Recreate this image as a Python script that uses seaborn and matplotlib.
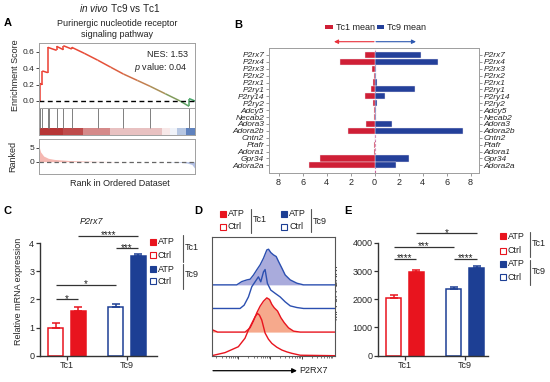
import numpy as np
import pandas as pd
import seaborn as sns
import matplotlib.pyplot as plt
from matplotlib.patches import Rectangle
from matplotlib.collections import LineCollection
from matplotlib.colors import LinearSegmentedColormap

# ---------------- data ----------------
# A: GSEA running enrichment score (rank as % of ordered dataset)
es_rank = [0, 0.6, 0.6, 2.1, 2.1, 5.6, 5.6, 11.3, 11.3, 15.6, 15.6, 21.0, 21.0,
           29.0, 37.6, 46.0, 54.1, 63.0, 71.2, 81.0, 90.4, 96.2, 96.2, 100]
es_score = [0, 0, 0.215, 0.20, 0.368, 0.347, 0.657, 0.62, 0.669, 0.628, 0.677, 0.636, 0.657,
            0.584, 0.50, 0.413, 0.33, 0.252, 0.18, 0.088, 0.0, -0.066, 0.03, 0.0]
hit_rank = [0.6, 2.1, 5.6, 6.4, 11.3, 15.6, 21.0, 37.6, 54.1, 71.2, 96.2]
metric_rank = [0, 1, 3, 6, 10, 20, 35, 50, 60, 80, 90, 95, 98, 100]
metric_value = [5.5, 3.5, 2.0, 1.2, 0.8, 0.4, 0.15, 0.05, 0, 0, -0.2, -0.5, -1.0, -2.5]
heat_edges = [0, 15.6, 28.4, 45.5, 78.6, 84, 88.3, 94, 100]
heat_value = [2.6, 2.3, 1.5, 0.8, 0.3, -0.2, -1.0, -2.2]

# B: purinergic genes, mean expression
genes = ['P2rx7', 'P2rx4', 'P2rx3', 'P2rx2', 'P2rx1', 'P2ry1', 'P2ry14', 'P2ry2', 'Adcy5',
         'Necab2', 'Adora3', 'Adora2b', 'Cntn2', 'Ptafr', 'Adora1', 'Gpr34', 'Adora2a']
tc1_mean = [0.77, 2.88, 0.2, 0.08, 0.16, 0.3, 0.77, 0.14, 0.05, 0.03, 0.74, 2.19, 0.0, 0.02, 0.02, 4.52, 5.48]
tc9_mean = [3.83, 5.25, 0.14, 0.15, 0.2, 3.4, 0.85, 0.22, 0.15, 0.1, 1.48, 7.35, 0.0, 0.01, 0.01, 2.9, 1.78]

# C: P2rx7 relative mRNA expression
cells = ['Tc1', 'Tc9']
treatments = ['Ctrl', 'ATP']
mrna_ctrl = [0.98, 1.72]
mrna_ctrl_sem = [0.2, 0.11]
mrna_atp = [1.60, 3.55]
mrna_atp_sem = [0.12, 0.08]
mrna_sig = [('Tc1 Ctrl', 'Tc1 ATP', 2.01, '*'), ('Tc1 Ctrl', 'Tc9 Ctrl', 2.52, '*'),
            ('Tc9 Ctrl', 'Tc9 ATP', 3.82, '***'), ('Tc1 ATP', 'Tc9 ATP', 4.26, '****')]

# D: P2RX7 flow histograms (x: % of log axis, y: normalised count)
hist_x_ctrl_tc1 = [0, 10.8, 21.6, 27.0, 29.8, 32.5, 35.2, 37.1, 38.7, 40.6, 43.3, 46.0, 48.8, 52.8, 56.9, 61.0, 65.0, 71.8, 100]
hist_y_ctrl_tc1 = [0.0, 0.13, 0.38, 0.74, 1.09, 1.37, 1.65, 1.79, 1.72, 1.51, 0.96, 0.70, 0.52, 0.36, 0.24, 0.16, 0.10, 0.02, 0]
hist_x_atp_tc1 = [0, 4.8, 27.1, 31.2, 33.9, 36.6, 39.3, 42.0, 44.7, 46.9, 48.8, 50.7, 53.4, 56.1, 58.8, 62.3, 66.4, 71.8, 100]
hist_y_atp_tc1 = [0.11, 0, 0, 0.18, 0.47, 0.82, 1.10, 1.31, 1.45, 1.38, 1.17, 1.03, 0.89, 0.61, 0.40, 0.18, 0.04, 0, 0]
hist_x_ctrl_tc9 = [0, 23.0, 26.3, 29.8, 32.5, 35.2, 37.9, 39.8, 42.0, 43.3, 45.2, 47.9, 51.5, 55.5, 59.6, 63.7, 69.1, 74.5, 100]
hist_y_ctrl_tc9 = [0, 0, 0.14, 0.49, 0.92, 1.13, 1.34, 1.13, 1.55, 1.65, 1.06, 0.78, 0.64, 0.49, 0.28, 0.11, 0.04, 0, 0]
hist_x_atp_tc9 = [0, 20.3, 24.4, 28.5, 31.2, 33.9, 36.6, 39.3, 42.0, 44.7, 46.1, 47.9, 50.1, 52.3, 54.2, 56.9, 59.6, 63.7, 69.1, 74.5, 100]
hist_y_atp_tc9 = [0, 0, 0.14, 0.21, 0.24, 0.42, 0.64, 0.85, 1.13, 1.48, 1.51, 1.37, 1.27, 1.20, 0.99, 0.71, 0.42, 0.21, 0.07, 0, 0]

# E: MFI of P2RX7
mfi_ctrl = [2060, 2380]
mfi_ctrl_sem = [80, 45]
mfi_atp = [2980, 3110]
mfi_atp_sem = [45, 75]
mfi_sig = [('Tc1 Ctrl', 'Tc1 ATP', 3430, '****'), ('Tc9 Ctrl', 'Tc9 ATP', 3430, '****'),
           ('Tc1 Ctrl', 'Tc9 Ctrl', 3870, '***'), ('Tc1 ATP', 'Tc9 ATP', 4340, '*')]

# ---------------- style ----------------
W, H = 550, 382
RED, BLUE = '#e8141e', '#1d3f94'
B_RED, B_BLUE = '#cf1f36', '#24409a'

sns.set_style('ticks')
plt.rcParams['font.family'] = ['Liberation Sans', 'DejaVu Sans']
plt.rcParams['mathtext.fontset'] = 'custom'
plt.rcParams['mathtext.rm'] = 'Liberation Sans'
plt.rcParams['mathtext.it'] = 'Liberation Sans:italic'
plt.rcParams['xtick.labelsize'] = 6
plt.rcParams['ytick.labelsize'] = 6
plt.rcParams['text.color'] = '#222222'

fig = plt.figure(figsize=(5.5, 3.82), dpi=100)


def px_axes(x0, y0, x1, y1):
    return fig.add_axes([x0 / W, 1 - y1 / H, (x1 - x0) / W, (y1 - y0) / H])


def gray_box(ax):
    for s in ax.spines.values():
        s.set_visible(True)
        s.set_color('#a0a0a0')
        s.set_linewidth(0.7)


# ---------------- A ----------------
axA = px_axes(39, 43, 195, 108)
pts = np.column_stack([es_rank, es_score])
segs = np.stack([pts[:-1], pts[1:]], axis=1)
mids = (np.array(es_rank[:-1]) + np.array(es_rank[1:])) / 2
es_cmap = LinearSegmentedColormap.from_list(
    'es', [(0, '#ec3b30'), (0.45, '#e4533a'), (0.72, '#bb8a55'), (0.88, '#7a9f5e'), (1, '#3fa86b')])
lc = LineCollection(segs, cmap=es_cmap, norm=plt.Normalize(0, 100), linewidths=1.1)
lc.set_array(mids)
axA.add_collection(lc)
axA.axhline(0, color='black', lw=1.0, ls=(0, (3.5, 2.5)))
axA.set_xlim(0, 100)
axA.set_ylim(-0.086, 0.71)
axA.set_xticks([])
axA.set_yticks([0, 0.2, 0.4, 0.6])
axA.set_yticklabels(['0.0', '0.2', '0.4', '0.6'])
axA.tick_params(axis='y', length=2, pad=1.2, width=0.6)
axA.set_ylabel('Enrichment Score', fontsize=6.5)
axA.yaxis.set_label_coords(-0.125, 0.5)
gray_box(axA)
axA.text(0.955, 0.83, 'NES: 1.53', transform=axA.transAxes, ha='right', va='center', fontsize=6.5)
axA.text(0.955, 0.63, r'$p$ value: 0.04', transform=axA.transAxes, ha='right', va='center', fontsize=6.5)

axH = px_axes(39, 108, 195, 135)
heat_cmap = LinearSegmentedColormap.from_list('heat', ['#3461ad', '#ffffff', '#b02626'])
axH.pcolormesh(heat_edges, [0, 0.27], [heat_value], cmap=heat_cmap, vmin=-2.8, vmax=2.8)
axH.vlines(hit_rank, 0.27, 1, color='#7f7f7f', lw=0.7)
axH.set_xlim(0, 100)
axH.set_ylim(0, 1)
axH.set_xticks([])
axH.set_yticks([])
gray_box(axH)

axR = px_axes(39, 139, 195, 174)
mv = np.array(metric_value)
axR.fill_between(metric_rank, np.clip(mv, 0, None), 0, color='#f5b8b2', lw=0)
axR.fill_between(metric_rank, np.clip(mv, None, 0), 0, color='#b3c1e6', lw=0)
axR.axhline(0, color='#666666', lw=0.9, ls=(0, (3.5, 2.5)))
axR.set_xlim(0, 100)
axR.set_ylim(-4.4, 8.1)
axR.set_xticks([])
axR.set_yticks([0, 5])
axR.tick_params(axis='y', length=2, pad=1.2, width=0.6)
axR.set_ylabel('Ranked', fontsize=6.5)
axR.yaxis.set_label_coords(-0.14, 0.5)
gray_box(axR)

# ---------------- B ----------------
axB = px_axes(269, 48, 479, 173)
dfB = pd.DataFrame({'gene': genes, 'Tc1 mean': tc1_mean, 'Tc9 mean': tc9_mean})
dfB['Tc1 left'] = -dfB['Tc1 mean']
axB.axvline(0, color='#c8649c', lw=0.8, ls=(0, (2.5, 1.5)), zorder=0.5)
sns.barplot(data=dfB, x='Tc9 mean', y='gene', order=genes, orient='h', color=B_BLUE,
            saturation=1, width=0.88, edgecolor='#f0e8f0', linewidth=0.3, ax=axB)
sns.barplot(data=dfB, x='Tc1 left', y='gene', order=genes, orient='h', color=B_RED,
            saturation=1, width=0.88, edgecolor='#f0e8f0', linewidth=0.3, ax=axB)
axB.set_ylim(17.1, -1.0)
axB.set_xlim(-8.8, 8.7)
axB.set_xticks([-8, -6, -4, -2, 0, 2, 4, 6, 8])
axB.set_xticklabels(['8', '6', '4', '2', '0', '2', '4', '6', '8'], fontsize=6.5)
axB.set_xlabel('')
axB.set_ylabel('')
axB.set_yticks(range(len(genes)))
axB.set_yticklabels(genes, fontsize=6.0, fontstyle='italic')
axB.tick_params(length=2, pad=1.5, width=0.6, color='#888888')
gray_box(axB)
axB2 = axB.twinx()
axB2.set_ylim(axB.get_ylim())
axB2.set_yticks(range(len(genes)))
axB2.set_yticklabels(genes, fontsize=6.0, fontstyle='italic')
axB2.tick_params(length=2, pad=1.5, width=0.6, color='#888888')
gray_box(axB2)


# ---------------- C & E bars ----------------
def treatment_bars(ax, df, sigs, ylim, ytop, yticks):
    sns.barplot(data=df, x='cell', y='value', hue='treatment', order=cells, hue_order=treatments,
                width=0.76, gap=0.34, errorbar=None, saturation=1, legend=False, ax=ax)
    pos = {}
    for p in list(ax.patches):
        xc = p.get_x() + p.get_width() / 2
        i = int(round(xc))
        col = RED if i == 0 else BLUE
        trt = 'ATP' if xc > i else 'Ctrl'
        p.set_facecolor(col if trt == 'ATP' else 'white')
        p.set_edgecolor(col)
        p.set_linewidth(1.1)
        row = df[(df['cell'] == cells[i]) & (df['treatment'] == trt)].iloc[0]
        ax.errorbar(xc, row['value'], yerr=[[0], [row['sem']]], fmt='none', ecolor=col,
                    elinewidth=1.1, capsize=2.6, capthick=1.1, zorder=1)
        pos[cells[i] + ' ' + trt] = xc
    for a, b, y, lab in sigs:
        ax.plot([pos[a], pos[b]], [y, y], color='#333333', lw=0.9, solid_capstyle='butt')
        ax.annotate(lab, ((pos[a] + pos[b]) / 2, y), xytext=(0, -1.8), textcoords='offset points',
                    ha='center', va='baseline', fontsize=7)
    ax.set_ylim(0, ylim)
    ax.set_yticks(yticks)
    ax.spines['left'].set_bounds(0, ytop)
    sns.despine(ax=ax)
    for s in ('left', 'bottom'):
        ax.spines[s].set_color('#333333')
        ax.spines[s].set_linewidth(1.0)
    ax.tick_params(length=2.6, width=0.9, pad=1.5, color='#333333', labelsize=6.5)
    ax.set_xlabel('')


axC = px_axes(40, 228, 157, 355.7)
dfC = pd.DataFrame({'cell': cells * 2, 'treatment': ['Ctrl', 'Ctrl', 'ATP', 'ATP'],
                    'value': mrna_ctrl + mrna_atp, 'sem': mrna_ctrl_sem + mrna_atp_sem})
treatment_bars(axC, dfC, mrna_sig, 4.54, 4, [0, 1, 2, 3, 4])
axC.set_xlim(-0.45, 1.5)
axC.set_ylabel('Relative mRNA expression', fontsize=6.5)
axC.yaxis.set_label_coords(-0.148, 0.5)

axE = px_axes(378.3, 228, 488, 355.7)
dfE = pd.DataFrame({'cell': cells * 2, 'treatment': ['Ctrl', 'Ctrl', 'ATP', 'ATP'],
                    'value': mfi_ctrl + mfi_atp, 'sem': mfi_ctrl_sem + mfi_atp_sem})
treatment_bars(axE, dfE, mfi_sig, 4528, 4000, [0, 1000, 2000, 3000, 4000])
axE.set_xlim(-0.445, 1.38)
axE.set_ylabel('MFI of P2RX7', fontsize=6.5)
axE.yaxis.set_label_coords(-0.35, 0.5)

# ---------------- D ----------------
axD = px_axes(211.7, 236.7, 335, 355.7)
hists = [(hist_x_ctrl_tc1, hist_y_ctrl_tc1, 0, RED, None),
         (hist_x_atp_tc1, hist_y_atp_tc1, 1, RED, '#f6a98c'),
         (hist_x_ctrl_tc9, hist_y_ctrl_tc9, 2, '#2b4fb0', None),
         (hist_x_atp_tc9, hist_y_atp_tc9, 3, '#2b4fb0', '#a9abdc')]
for hx, hy, off, line, fill in hists:
    if fill:
        axD.fill_between(hx, off, np.array(hy) + off, color=fill, lw=0)
for hx, hy, off, line, fill in hists:
    axD.plot(hx, np.array(hy) + off, color=line, lw=1.0)
axD.set_xlim(0, 100)
axD.set_ylim(0, 5.04)
axD.set_yticks([])
decades = [-4.2, 21.6, 47.4, 73.2]
axD.set_xticks([d for d in decades if 0 <= d <= 100])
axD.set_xticks([d + 25.8 * np.log10(k) for d in decades for k in range(2, 10)
                if 0 <= d + 25.8 * np.log10(k) <= 100], minor=True)
axD.set_xticklabels([])
axD.tick_params(which='major', length=2.5, width=0.7, color='#444444')
axD.tick_params(which='minor', length=1.5, width=0.5, color='#444444')
for s in axD.spines.values():
    s.set_color('#555555')
    s.set_linewidth(0.8)

# ---------------- overlay: titles, letters, legends ----------------
ov = fig.add_axes([0, 0, 1, 1])
ov.set_xlim(0, W)
ov.set_ylim(H, 0)
ov.axis('off')
ov.patch.set_visible(False)
ov.set_zorder(10)

for letter, x, y in [('A', 7.5, 23.5), ('B', 238.3, 24.5), ('C', 7, 211), ('D', 198, 211), ('E', 348, 211.5)]:
    ov.text(x, y, letter, ha='center', va='center', fontsize=8, fontweight='bold', color='black')

ov.text(119.5, 7.5, r'$in\ vivo$ Tc9 vs Tc1', ha='center', va='center', fontsize=7.2)
ov.text(117, 29, 'Purinergic nucleotide receptor\nsignaling pathway', ha='center', va='center',
        fontsize=6.5, linespacing=1.15)
ov.text(120, 183, 'Rank in Ordered Dataset', ha='center', va='center', fontsize=6.5)

# B legend and arrows
ov.add_patch(Rectangle((325, 25.3), 8, 4, fc=B_RED, ec='none'))
ov.text(335.7, 27.3, 'Tc1 mean', va='center', fontsize=6.5)
ov.add_patch(Rectangle((377.3, 25.3), 7, 4, fc=B_BLUE, ec='none'))
ov.text(386.7, 27.3, 'Tc9 mean', va='center', fontsize=6.5)
ov.annotate('', xy=(334, 41.7), xytext=(374, 41.7),
            arrowprops=dict(arrowstyle='-|>', color='#e8303a', lw=0.8, mutation_scale=6, shrinkA=0, shrinkB=0))
ov.annotate('', xy=(416, 41.7), xytext=(376, 41.7),
            arrowprops=dict(arrowstyle='-|>', color='#2d58b0', lw=0.8, mutation_scale=6, shrinkA=0, shrinkB=0))

# C title
ov.text(91, 221.7, 'P2rx7', ha='center', va='center', fontsize=6.5, fontstyle='italic')


def group_legend(x, y_atp, y_ctrl, color, label, bx, by0, by1, ly, sq=6):
    ov.add_patch(Rectangle((x, y_atp - sq / 2), sq, sq, fc=color, ec=color, lw=0.8))
    ov.add_patch(Rectangle((x, y_ctrl - sq / 2), sq, sq, fc='white', ec=color, lw=0.8))
    ov.text(x + sq + 2, y_atp, 'ATP', va='center', fontsize=6.5)
    ov.text(x + sq + 2, y_ctrl, 'Ctrl', va='center', fontsize=6.5)
    ov.plot([bx, bx], [by0, by1], color='#555555', lw=0.8)
    ov.text(bx + 2, ly, label, va='center', fontsize=6.5)


group_legend(149.5, 241.5, 255, RED, 'Tc1', 182.7, 235, 261.7, 247.3)
group_legend(149.5, 269.3, 281, BLUE, 'Tc9', 182.7, 264, 289, 274.3)
group_legend(219.5, 214, 226.7, RED, 'Tc1', 250.7, 209.3, 233.3, 219.3)
group_legend(281, 214, 226.7, BLUE, 'Tc9', 311, 209.3, 232, 221.7)
group_legend(500, 236.3, 250.8, RED, 'Tc1', 530, 231.7, 256.7, 243.3)
group_legend(500, 263.7, 277, BLUE, 'Tc9', 530, 260, 285, 271.7)

# D axis arrow
ov.annotate('', xy=(297, 370.7), xytext=(213, 370.7),
            arrowprops=dict(arrowstyle='-|>', color='black', lw=0.9, mutation_scale=7, shrinkA=0, shrinkB=0))
ov.text(299, 370.7, 'P2RX7', va='center', fontsize=6.5)

fig.savefig('out.png', dpi=100)
